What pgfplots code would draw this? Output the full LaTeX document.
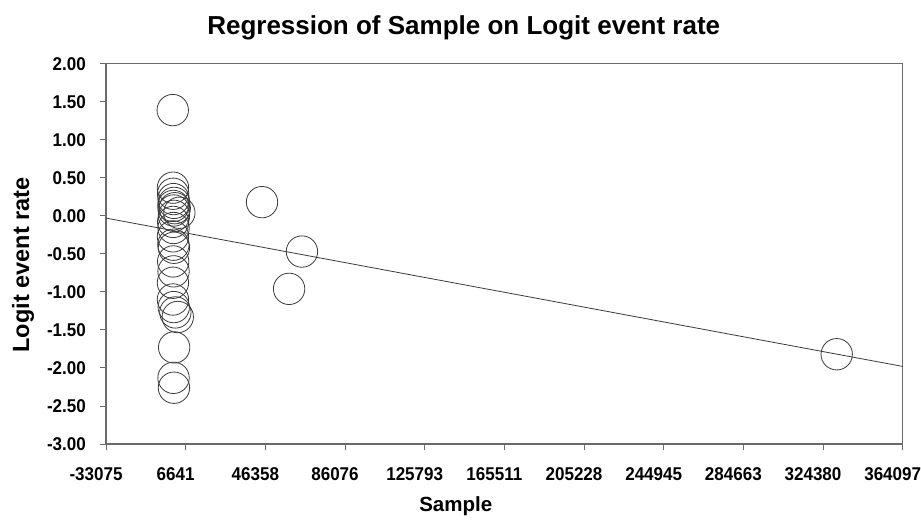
\documentclass[border=0pt]{standalone}
\usepackage{fontspec}
\setmainfont{Liberation Sans}
\newfontfamily\tickfont{Liberation Sans}[FakeStretch=0.92]
\usepackage{pgfplots}
\pgfplotsset{compat=1.18}
\usepackage{pgfplotstable}

\pgfplotstableread{
x y
200 1.39
300 0.37
400 0.29
600 0.22
900 0.17
500 0.13
1200 0.10
700 0.07
3500 0.04
800 0.00
400 -0.08
600 -0.16
300 -0.27
500 -0.38
800 -0.42
400 -0.60
600 -0.73
300 -0.88
300 -1.10
700 -1.20
1500 -1.27
2700 -1.33
900 -1.73
600 -2.13
800 -2.26
44700 0.18
64600 -0.47
58200 -0.96
331200 -1.82
}\studies

\definecolor{frame}{HTML}{6A6A6A}
\definecolor{ink}{HTML}{3A3A3A}

\begin{document}
\begin{tikzpicture}
\path[use as bounding box] (0,0) rectangle (921pt,523pt);
\begin{axis}[
  at={(106pt,79pt)}, anchor=south west,
  scale only axis,
  width=796.7pt, height=380.3pt,
  xmin=-33075, xmax=364097,
  ymin=-3, ymax=2,
  xtick={-33075,6642.2,46359.4,86076.6,125793.8,165511,205228.2,244945.4,284662.6,324379.8,364097},
  xticklabels={-33075,6641,46358,86076,125793,165511,205228,244945,284663,324380,364097},
  ytick={-3,-2.5,-2,-1.5,-1,-0.5,0,0.5,1,1.5,2},
  yticklabels={-3.00,-2.50,-2.00,-1.50,-1.00,-0.50,0.00,0.50,1.00,1.50,2.00},
  scaled x ticks=false,
  xtick pos=bottom, ytick pos=left,
  tick align=outside,
  major tick length=6pt,
  axis line style={frame, line width=1.1pt},
  tick style={frame, line width=0.9pt},
  ticklabel style={font=\tickfont\fontsize{18.5}{20}\selectfont\bfseries, inner sep=0pt},
  xticklabel style={anchor=north, yshift=-17pt, xshift=-10pt},
  yticklabel style={anchor=east, xshift=-14pt},
  title={Regression of Sample on Logit event rate},
  title style={font=\fontsize{26}{30}\selectfont\bfseries, at={(axis description cs:0.449,1.060)}, anchor=base, inner sep=0pt},
  xlabel={Sample},
  xlabel style={font=\fontsize{20.5}{24}\selectfont\bfseries, at={(axis description cs:0.439,-0.178)}, anchor=base, inner sep=0pt},
  ylabel={Logit event rate},
  ylabel style={font=\fontsize{23.5}{27}\selectfont\bfseries, at={(axis description cs:-0.104,0.471)}, anchor=center, rotate=0, inner sep=0pt},
  clip=true,
]
\addplot[ink, line width=0.8pt] coordinates {(-33075,-0.03) (364097,-1.98)};
\addplot[only marks, mark=o, mark size=15.7pt, mark options={ink, line width=0.8pt}] table[x=x, y=y] {\studies};
\end{axis}
\end{tikzpicture}
\end{document}
